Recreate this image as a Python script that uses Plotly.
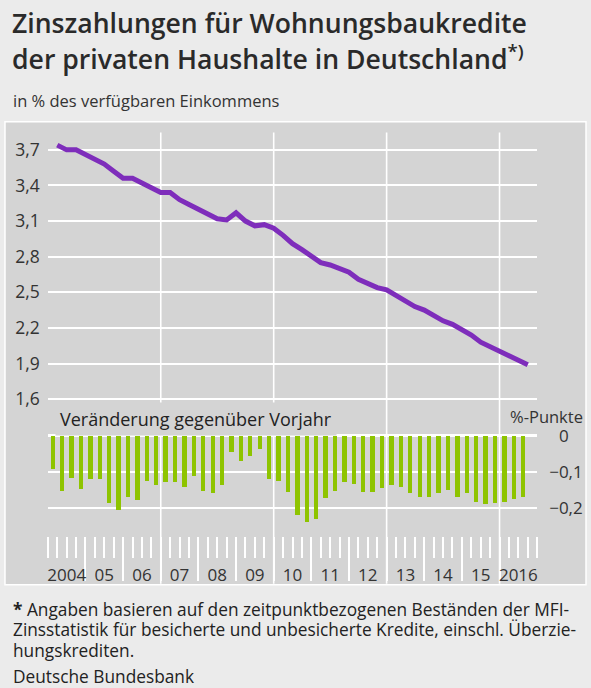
import plotly.graph_objects as go

# ---------------- data ----------------
years = list(range(2004, 2017))
year_labels = ["2004", "05", "06", "07", "08", "09", "10", "11", "12", "13", "14", "15", "2016"]
grid_years = [2007, 2010, 2013, 2016]

# Interest payments, % of disposable income (quarterly, 2004 Q1 - 2016 Q3)
line_values = [3.74, 3.70, 3.70, 3.66, 3.63, 3.58, 3.52, 3.46, 3.46, 3.42,
               3.39, 3.34, 3.34, 3.28, 3.24, 3.20, 3.17, 3.12, 3.11, 3.17,
               3.10, 3.06, 3.07, 3.04, 2.98, 2.91, 2.86, 2.81, 2.75, 2.73,
               2.70, 2.67, 2.61, 2.57, 2.54, 2.52, 2.47, 2.42, 2.38, 2.35,
               2.30, 2.26, 2.23, 2.19, 2.14, 2.08, 2.04, 2.01, 1.97, 1.92,
               1.89]

# Change vs. previous year, percentage points
change_values = [-0.091, -0.151, -0.117, -0.148, -0.118, -0.118, -0.185, -0.205, -0.170, -0.177,
                 -0.125, -0.135, -0.127, -0.126, -0.142, -0.110, -0.152, -0.157, -0.135, -0.045,
                 -0.069, -0.056, -0.035, -0.119, -0.124, -0.155, -0.219, -0.238, -0.231, -0.171,
                 -0.152, -0.126, -0.132, -0.155, -0.155, -0.145, -0.135, -0.141, -0.157, -0.168,
                 -0.170, -0.159, -0.150, -0.168, -0.157, -0.182, -0.187, -0.185, -0.183, -0.175,
                 -0.168]

line_ticks = [1.6, 1.9, 2.2, 2.5, 2.8, 3.1, 3.4, 3.7]
change_ticks = [0, -0.1, -0.2]
change_ticktext = ["\u20070", "\u22120,1", "\u22120,2"]

title_lines = ["Zinszahlungen für Wohnungsbaukredite",
               "der privaten Haushalte in Deutschland<sup>*)</sup>"]
subtitle = "in % des verfügbaren Einkommens"
sub_title_bars = "Veränderung gegenüber Vorjahr"
unit_bars = "%-Punkte"
footnote_lines = ["<b>*</b> Angaben basieren auf den zeitpunktbezogenen Beständen der MFI-",
                  "Zinsstatistik für besicherte und unbesicherte Kredite, einschl. Überzie-",
                  "hungskrediten."]
source = "Deutsche Bundesbank"

# ---------------- geometry helpers ----------------
W, H = 591, 688
def py(p):
    return 1 - p / H
def px(p):
    return p / W

def q(year):
    return (year - years[0]) * 4

n_q = len(years) * 4
q_end = [i + 1 for i in range(len(line_values))]
q_mid = [i + 0.5 for i in range(len(change_values))]
xdom = [px(47), px(538)]

FONT = "Open Sans"
TXT = "#333333"
PANEL = "#d4d4d4"

fig = go.Figure()
fig.add_trace(go.Scatter(x=q_end, y=line_values, mode="lines",
                         line=dict(color="#7e2dbb", width=5),
                         xaxis="x", yaxis="y", hoverinfo="skip", showlegend=False))
fig.add_trace(go.Bar(x=q_mid, y=change_values, width=0.46,
                     marker=dict(color="#8ec400", line=dict(width=0)),
                     xaxis="x2", yaxis="y2", hoverinfo="skip", showlegend=False))
# helper traces so the tick-row axes exist
fig.add_trace(go.Scatter(x=[None], y=[None], xaxis="x3", yaxis="y", showlegend=False, hoverinfo="skip"))
fig.add_trace(go.Scatter(x=[None], y=[None], xaxis="x4", yaxis="y", showlegend=False, hoverinfo="skip"))

hidden_x = dict(domain=xdom, range=[0, n_q], showgrid=False, showticklabels=False,
                ticks="", zeroline=False, showline=False, fixedrange=True)

fig.update_layout(
    width=W, height=H,
    margin=dict(l=0, r=0, t=0, b=0),
    paper_bgcolor="#ebebeb",
    plot_bgcolor="rgba(0,0,0,0)",
    separators=",.",
    font=dict(family=FONT, color=TXT),
    bargap=0,
    xaxis=dict(anchor="y", **hidden_x),
    yaxis=dict(domain=[py(405), py(130)], range=[1.573, 3.846], anchor="x",
               tickvals=line_ticks, tickformat=".1f",
               showgrid=True, gridcolor="white", gridwidth=1.6,
               zeroline=False, showline=False, ticks="",
               tickfont=dict(size=17.5, color=TXT), ticklabelstandoff=7),
    xaxis2=dict(anchor="y2", matches="x", **hidden_x),
    yaxis2=dict(domain=[py(532.6), py(431.7)], range=[-0.255, 0.02], anchor="x2",
                side="right", tickvals=change_ticks, ticktext=change_ticktext,
                showgrid=True, gridcolor="white", gridwidth=1.6,
                zeroline=True, zerolinecolor="white", zerolinewidth=3.2,
                showline=False, ticks="", tickfont=dict(size=17, color=TXT),
                ticklabelstandoff=11),
    xaxis3=dict(overlaying="x", anchor="free", position=py(541), side="bottom",
                domain=xdom, range=[0, n_q], showgrid=False, zeroline=False, showline=False,
                showticklabels=False, ticks="outside",
                tickvals=[q(y) for y in years[1:]],
                ticklen=44, tickwidth=1.5, tickcolor="white",
                minor=dict(tickvals=list(range(0, n_q + 1)), ticks="outside",
                           ticklen=21, tickwidth=1.5, tickcolor="white")),
    xaxis4=dict(overlaying="x", anchor="free", position=py(569), side="bottom",
                domain=xdom, range=[0, n_q], showgrid=False, zeroline=False, showline=False,
                ticks="", tickvals=[q(y) + 2 for y in years], ticktext=year_labels,
                tickfont=dict(size=17, color=TXT)),
)

shapes = [dict(type="rect", xref="paper", yref="paper",
               x0=px(4), x1=px(587), y0=py(591), y1=py(119),
               fillcolor=PANEL, line=dict(color="white", width=1.5), layer="below")]
for gy in grid_years:
    shapes.append(dict(type="line", xref="x", yref="paper",
                       x0=q(gy), x1=q(gy), y0=py(590), y1=py(130),
                       line=dict(color="white", width=1.6), layer="below"))
fig.update_layout(shapes=shapes)

ann = []
ann.append(dict(text=title_lines[0], x=px(9), y=py(18), xref="paper", yref="paper",
                xanchor="left", yanchor="middle", showarrow=False,
                font=dict(size=26.6, color="#2a2a2a", weight=600)))
ann.append(dict(text=title_lines[1], x=px(9), y=py(54), xref="paper", yref="paper",
                xanchor="left", yanchor="middle", showarrow=False,
                font=dict(size=26.6, color="#2a2a2a", weight=600)))
ann.append(dict(text=subtitle, x=px(10), y=py(97), xref="paper", yref="paper",
                xanchor="left", yanchor="middle", showarrow=False,
                font=dict(size=16.5, color=TXT)))
ann.append(dict(text=sub_title_bars, x=px(54), y=py(422), xref="paper", yref="paper",
                xanchor="left", yanchor="middle", showarrow=False,
                bgcolor=PANEL, borderpad=4,
                font=dict(size=18, color="#222222")))
ann.append(dict(text=unit_bars, x=px(586), y=py(419), xref="paper", yref="paper",
                xanchor="right", yanchor="middle", showarrow=False,
                font=dict(size=16.5, color=TXT)))
for i, t in enumerate(footnote_lines):
    ann.append(dict(text=t, x=px(10), y=py(616 + 21 * i), xref="paper", yref="paper",
                    xanchor="left", yanchor="middle", showarrow=False,
                    font=dict(size=17.3, color="#222222")))
ann.append(dict(text=source, x=px(10), y=py(684), xref="paper", yref="paper",
                xanchor="left", yanchor="middle", showarrow=False,
                font=dict(size=17.3, color="#222222")))
fig.update_layout(annotations=ann)

fig.write_html("out.html", config={"displayModeBar": False},
               post_script="document.body.style.margin='0';")
